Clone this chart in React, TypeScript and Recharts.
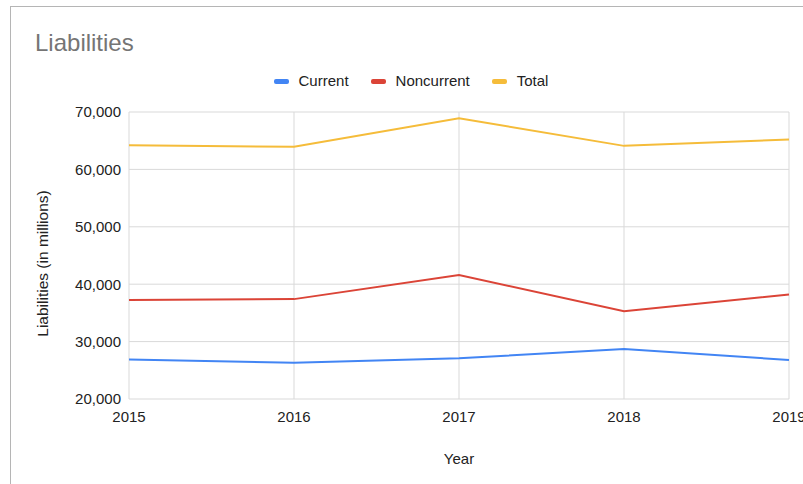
import { LineChart, Line, XAxis, YAxis, CartesianGrid, Label } from "recharts"

const years = ["2015", "2016", "2017", "2018", "2019"]
const current = [26900, 26300, 27100, 28700, 26800]
const noncurrent = [37250, 37400, 41600, 35300, 38200]
const total = [64200, 63950, 68900, 64100, 65200]
const yTicks = [20000, 30000, 40000, 50000, 60000, 70000]

const series = [
  { key: "current", name: "Current", color: "#4285F4" },
  { key: "noncurrent", name: "Noncurrent", color: "#DB4437" },
  { key: "total", name: "Total", color: "#F5BC3A" },
]

const data = years.map((year, i) => ({
  year,
  current: current[i],
  noncurrent: noncurrent[i],
  total: total[i],
}))

const FONT = "Arial, 'Liberation Sans', sans-serif"

export default function App() {
  return (
    <div
      style={{
        position: "relative",
        width: 803,
        height: 484,
        overflow: "hidden",
        background: "#fff",
        fontFamily: FONT,
      }}
    >
      <style>{`body{margin:0;overflow:hidden}`}</style>
      {/* chart frame, right and bottom edges run off the page */}
      <div
        style={{
          position: "absolute",
          left: 10,
          top: 6,
          width: 840,
          height: 520,
          border: "1px solid #b5b5b5",
        }}
      />
      <div
        style={{
          position: "absolute",
          left: 35,
          top: 29,
          fontSize: 24,
          color: "#757575",
          lineHeight: "28px",
        }}
      >
        Liabilities
      </div>

      {/* Legend */}
      <div
        style={{
          position: "absolute",
          top: 71,
          left: 0,
          width: 822,
          display: "flex",
          justifyContent: "center",
          gap: 22,
          fontSize: 15,
          color: "#222",
          lineHeight: "20px",
        }}
      >
        {series.map((s) => (
          <div key={s.key} style={{ display: "flex", alignItems: "center", gap: 10 }}>
            <span
              style={{
                width: 15,
                height: 5,
                borderRadius: 2,
                background: s.color,
                display: "inline-block",
              }}
            />
            <span>{s.name}</span>
          </div>
        ))}
      </div>

      <div style={{ position: "absolute", left: 0, top: 0 }}>
        <LineChart
          width={803}
          height={484}
          data={data}
          margin={{ top: 112, right: 14, bottom: 0, left: 69 }}
        >
          <CartesianGrid stroke="#d9d9d9" strokeWidth={1} />
          <XAxis
            dataKey="year"
            axisLine={false}
            tickLine={false}
            interval={0}
            tickMargin={6}
            height={85}
            tick={{ fill: "#222", fontSize: 15, fontFamily: FONT }}
          >
            <Label
              value="Year"
              position="insideBottom"
              offset={20}
              style={{ fill: "#222", fontSize: 15, fontFamily: FONT }}
            />
          </XAxis>
          <YAxis
            width={60}
            domain={[20000, 70000]}
            ticks={yTicks}
            axisLine={false}
            tickLine={false}
            tickFormatter={(v: number) => v.toLocaleString("en-US")}
            tick={{ fill: "#222", fontSize: 15, fontFamily: FONT }}
          >
            <Label
              value="Liabilities (in millions)"
              angle={-90}
              position="center"
              dx={-57}
              dy={8}
              style={{ fill: "#222", fontSize: 15.5, fontFamily: FONT, textAnchor: "middle" }}
            />
          </YAxis>
          {series.map((s) => (
            <Line
              key={s.key}
              type="linear"
              dataKey={s.key}
              name={s.name}
              stroke={s.color}
              strokeWidth={2}
              dot={false}
              activeDot={false}
              isAnimationActive={false}
            />
          ))}
        </LineChart>
      </div>
    </div>
  )
}
